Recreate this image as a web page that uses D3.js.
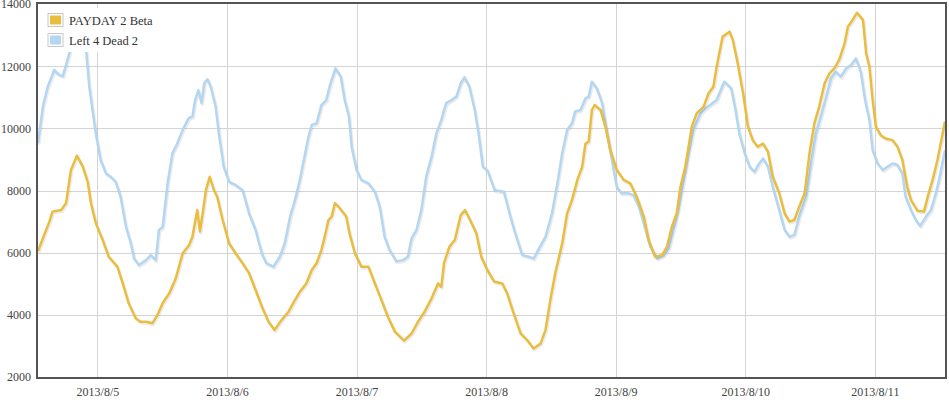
<!DOCTYPE html>
<html>
<head>
<meta charset="utf-8">
<script src="https://cdn.jsdelivr.net/npm/d3@7"></script>
<style>
  body { margin: 0; background: #fff; }
  svg { display: block; font-family: "Liberation Serif", "Times New Roman", serif; }
  .tick text { fill: #444; font-size: 12px; }
</style>
</head>
<body>
<svg id="chart" width="949" height="400"></svg>
<script>
// series names
const seriesNames = ["PAYDAY 2 Beta", "Left 4 Dead 2"];

// hours after 2013/8/4 13:00, and concurrent players
const paydayHours = [0, 2.1, 2.7, 4.3, 5.2, 6.1, 7.2, 8.3, 9.2, 9.8, 10.7, 12.0, 13.1, 14.7, 15.7, 16.8, 18.1, 19.0, 20.0, 21.2,
  22.1, 23.1, 24.3, 25.5, 26.8, 28.0, 28.6, 29.5, 30.0, 30.5, 31.1, 31.8, 32.6, 33.2, 34.2, 35.4, 36.6, 37.9, 39.1, 40.3,
  41.5, 42.7, 43.8, 45.1, 46.4, 47.6, 48.5, 49.7, 50.7, 51.6, 52.5, 53.1, 53.8, 54.4, 55.0, 55.9, 57.1, 57.7, 58.7, 59.9,
  61.2, 62.4, 63.6, 64.8, 66.1, 67.8, 69.2, 70.4, 71.6, 72.9, 74.1, 74.7, 75.2, 76.2, 77.2, 78.3, 79.1, 79.9, 81.2, 82.1,
  83.2, 84.5, 86.0, 86.9, 88.1, 89.4, 90.6, 91.8, 93.1, 94.0, 94.9, 95.8, 97.1, 98.0, 98.9, 99.9, 100.8, 101.4, 102.0, 102.6,
  103.1, 104.2, 105.1, 106.0, 107.2, 108.5, 109.7, 110.9, 112.2, 113.1, 114.3, 115.6, 116.5, 117.4, 118.3, 119.0, 119.9, 120.5, 121.1, 122.0,
  123.3, 124.2, 125.1, 125.7, 126.8, 128.1, 128.7, 129.6, 130.6, 131.5, 132.4, 133.3, 134.3, 135.2, 136.1, 137.3, 138.3, 139.2, 140.1, 141.0,
  142.0, 142.9, 143.8, 144.7, 145.7, 146.6, 147.5, 148.4, 149.4, 150.0, 150.9, 151.7, 152.8, 153.4, 154.0, 154.6, 155.2, 156.1, 157.0, 158.3,
  159.2, 160.1, 161.0, 161.7, 162.9, 164.1, 164.8, 165.7, 166.6, 168];
const paydayValues = [6050, 7000, 7320, 7370, 7600, 8660, 9120, 8770, 8280, 7600, 6950, 6400, 5870, 5550, 5010, 4370, 3890, 3780, 3780, 3730,
  3990, 4380, 4690, 5170, 5980, 6250, 6510, 7370, 6680, 7260, 8010, 8440, 8010, 7800, 7050, 6300, 5980, 5660, 5340, 4800,
  4250, 3780, 3510, 3830, 4100, 4480, 4740, 5010, 5440, 5660, 6090, 6510, 7050, 7160, 7590, 7430, 7160, 6620, 5980, 5550,
  5550, 5010, 4480, 3940, 3460, 3170, 3400, 3780, 4100, 4530, 5010, 4900, 5660, 6190, 6410, 7210, 7370, 7100, 6620, 5870,
  5450, 5070, 5010, 4690, 4050, 3400, 3190, 2920, 3080, 3510, 4480, 5340, 6300, 7260, 7690, 8340, 8770, 9510, 9570, 10590,
  10750, 10590, 10050, 9300, 8660, 8340, 8230, 7800, 7160, 6410, 5870, 5920, 6190, 6830, 7260, 8120, 8770, 9410, 10050, 10480,
  10700, 11130, 11340, 11980, 12950, 13110, 12840, 12090, 11130, 10050, 9620, 9410, 9510, 9250, 8440, 7910, 7260, 7000, 7050, 7480,
  7910, 9200, 10160, 10700, 11450, 11770, 11930, 12200, 12730, 13270, 13490, 13720, 13490, 12410, 11980, 10910, 10050, 9780, 9670, 9620,
  9410, 8980, 8120, 7690, 7350, 7320, 7800, 8340, 8980, 10220];

const l4d2Hours = [0, 0.9, 1.8, 3.0, 3.9, 4.6, 5.2, 5.8, 6.4, 7.8, 8.3, 8.9, 9.5, 10.1, 10.7, 11.6, 12.6, 13.5, 14.4, 15.3,
  16.3, 17.2, 17.8, 18.7, 20.0, 20.9, 21.8, 22.4, 23.1, 24.0, 24.9, 25.8, 26.8, 27.9, 28.6, 29.1, 29.7, 30.3, 30.8, 31.4,
  32.0, 32.9, 33.5, 34.4, 35.4, 36.6, 37.9, 39.1, 40.3, 41.5, 42.3, 43.6, 44.8, 45.7, 46.7, 47.6, 48.5, 49.1, 50.1, 50.7,
  51.6, 52.5, 53.4, 54.0, 55.1, 56.1, 56.8, 57.6, 58.1, 59.0, 59.9, 61.2, 62.4, 63.3, 64.2, 65.1, 66.4, 67.6, 68.5, 69.2,
  70.1, 71.0, 71.9, 72.9, 73.8, 74.7, 75.6, 76.6, 77.5, 78.3, 79.0, 79.9, 80.9, 81.6, 82.4, 83.3, 84.6, 86.3, 87.5, 88.4,
  89.7, 90.9, 91.8, 92.8, 94.0, 95.2, 96.2, 97.1, 98.0, 98.9, 99.5, 100.5, 101.4, 102.0, 102.6, 103.5, 104.5, 105.4, 106.3, 107.2,
  108.1, 109.4, 110.3, 111.3, 112.2, 113.4, 114.7, 115.9, 116.8, 117.7, 118.7, 119.6, 120.5, 121.4, 122.7, 123.6, 124.5, 125.7, 127.1, 128.4,
  129.2, 129.9, 130.9, 131.8, 132.7, 133.6, 134.3, 135.2, 136.1, 137.3, 138.3, 139.2, 140.1, 141.0, 142.3, 143.2, 144.1, 145.0, 146.0, 146.9,
  147.8, 148.7, 149.7, 150.6, 151.5, 152.4, 153.2, 154.0, 154.6, 155.5, 156.5, 157.4, 158.3, 159.2, 160.1, 160.7, 161.7, 162.6, 163.4, 164.5,
  165.4, 166.3, 166.9, 168];
const l4d2Values = [9520, 10700, 11340, 11880, 11720, 11680, 12040, 12410, 12950, 13500, 13050, 12530, 11340, 10590, 9840, 8980, 8550, 8440, 8280, 7800,
  6830, 6300, 5810, 5600, 5760, 5920, 5760, 6730, 6830, 8230, 9200, 9520, 9950, 10330, 10380, 10910, 11230, 10810, 11450, 11580,
  11340, 10700, 9840, 8770, 8280, 8180, 8010, 7260, 6730, 5950, 5660, 5550, 5870, 6300, 7160, 7690, 8340, 8870, 9730, 10110,
  10160, 10750, 10910, 11340, 11930, 11660, 10910, 10380, 9410, 8660, 8340, 8230, 7960, 7480, 6510, 6090, 5720, 5760, 5870, 6460,
  6730, 7370, 8440, 9090, 9840, 10270, 10810, 10910, 11020, 11450, 11640, 11340, 10590, 9840, 8770, 8630, 8010, 7960, 7160, 6620,
  5920, 5870, 5810, 6140, 6510, 7260, 8230, 9200, 9950, 10160, 10540, 10590, 10960, 11020, 11500, 11290, 10810, 9840, 8980, 8120,
  7910, 7910, 7850, 7480, 6940, 6190, 5810, 5920, 6140, 6730, 7480, 8340, 9200, 9950, 10480, 10640, 10750, 10910, 11500, 11290,
  10590, 9840, 9200, 8770, 8600, 8870, 9030, 8770, 8120, 7370, 6730, 6510, 6570, 7160, 7800, 8870, 9840, 10380, 11020, 11610,
  11820, 11660, 11930, 12040, 12250, 11820, 10910, 10270, 9300, 8870, 8660, 8770, 8870, 8820, 8550, 7800, 7370, 7050, 6860, 7160,
  7370, 7910, 8340, 9300];

const yTicks = [2000, 4000, 6000, 8000, 10000, 12000, 14000];

const startTime = new Date(2013, 7, 4, 13);
const endTime = new Date(2013, 7, 11, 13);
const hourToDate = h => new Date(startTime.getTime() + h * 3600 * 1000);

const colors = ["#ebbd3e", "#b3d6f2"];

const svg = d3.select("#chart");
const plotLeft = 38, plotRight = 945, plotTop = 4, plotBottom = 377;

const x = d3.scaleTime().domain([startTime, endTime]).range([plotLeft, plotRight]);
const y = d3.scaleLinear().domain([2000, 14000]).range([plotBottom, plotTop]);

// grid
const dayTicks = d3.timeDay.range(d3.timeDay.ceil(startTime), endTime);
svg.append("g")
  .selectAll("line").data(dayTicks).join("line")
  .attr("x1", d => Math.round(x(d)) + 0.5).attr("x2", d => Math.round(x(d)) + 0.5)
  .attr("y1", plotTop).attr("y2", plotBottom)
  .attr("stroke", "#d4d4d4").attr("stroke-width", 1);
svg.append("g")
  .selectAll("line").data(yTicks.slice(1, -1)).join("line")
  .attr("x1", plotLeft).attr("x2", plotRight)
  .attr("y1", d => Math.round(y(d)) + 0.5).attr("y2", d => Math.round(y(d)) + 0.5)
  .attr("stroke", "#d4d4d4").attr("stroke-width", 1);

// axes (labels only) - drop d3's default sans-serif so the serif face applies
const yAxis = d3.axisLeft(y).tickValues(yTicks).tickSize(0).tickPadding(7).tickFormat(d3.format("d"));
svg.append("g").attr("transform", `translate(${plotLeft},0)`).call(yAxis)
  .attr("font-family", null)
  .call(g => g.select(".domain").remove());

const xAxis = d3.axisBottom(x).tickValues(dayTicks).tickSize(0).tickPadding(10)
  .tickFormat(d3.timeFormat("%Y/%-m/%-d"));
svg.append("g").attr("transform", `translate(0,${plotBottom})`).call(xAxis)
  .attr("font-family", null)
  .call(g => g.select(".domain").remove());

// lines
const series = [
  paydayHours.map((h, i) => [hourToDate(h), paydayValues[i]]),
  l4d2Hours.map((h, i) => [hourToDate(h), l4d2Values[i]])
];
const line = d3.line().x(d => x(d[0])).y(d => y(d[1]));

svg.append("defs").append("clipPath").attr("id", "plot-clip")
  .append("rect").attr("x", plotLeft).attr("y", plotTop)
  .attr("width", plotRight - plotLeft).attr("height", plotBottom - plotTop);

const plot = svg.append("g").attr("clip-path", "url(#plot-clip)");
// blue below, yellow on top
[1, 0].forEach(i => {
  plot.append("path").datum(series[i])
    .attr("d", line).attr("fill", "none")
    .attr("stroke", "rgba(0,0,0,0.08)").attr("stroke-width", 3)
    .attr("stroke-linejoin", "round")
    .attr("transform", "translate(1,1.5)");
  plot.append("path").datum(series[i])
    .attr("d", line).attr("fill", "none")
    .attr("stroke", colors[i]).attr("stroke-width", 2.5)
    .attr("stroke-linejoin", "round");
});

// frame
svg.append("rect")
  .attr("x", plotLeft - 1).attr("y", plotTop - 1)
  .attr("width", plotRight - plotLeft + 2).attr("height", plotBottom - plotTop + 2)
  .attr("fill", "none").attr("stroke", "#555").attr("stroke-width", 2);

// legend
const legend = svg.append("g");
legend.append("rect").attr("x", 42).attr("y", 8).attr("width", 122).attr("height", 44).attr("fill", "#fff");
seriesNames.forEach((name, i) => {
  const g = legend.append("g").attr("transform", `translate(48,${13.5 + i * 20})`);
  g.append("rect").attr("x", 0).attr("y", 0).attr("width", 15).attr("height", 13)
    .attr("fill", "#fff").attr("stroke", "#c8c8c8").attr("stroke-width", 1);
  g.append("rect").attr("x", 2).attr("y", 2).attr("width", 11).attr("height", 9)
    .attr("fill", colors[i]);
  g.append("text").attr("x", 21).attr("y", 11)
    .attr("font-size", "12.5px").attr("fill", "#333").text(name);
});
</script>
</body>
</html>
